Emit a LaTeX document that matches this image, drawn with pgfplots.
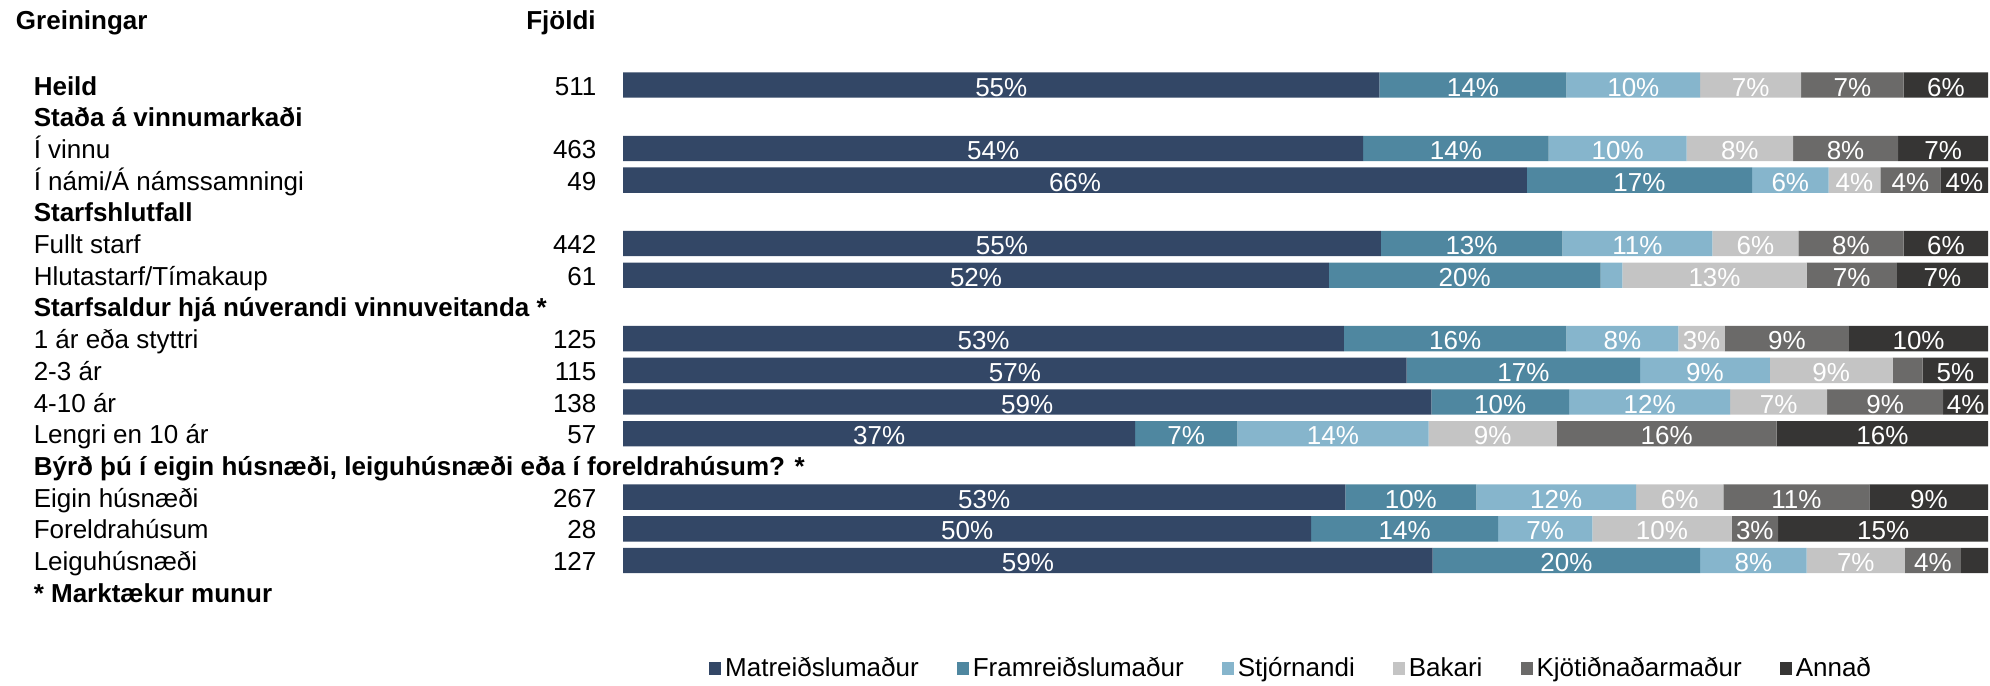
\documentclass[border=0pt]{standalone}
\usepackage{fontspec}
\setmainfont{Liberation Sans}
\usepackage{pgfplots}
\pgfplotsset{compat=1.18}
\definecolor{c1}{HTML}{334766}
\definecolor{c2}{HTML}{4F87A0}
\definecolor{c3}{HTML}{86B5CC}
\definecolor{c4}{HTML}{C4C4C4}
\definecolor{c5}{HTML}{6B6A69}
\definecolor{c6}{HTML}{363534}
\newcommand{\rl}[2]{\makebox[281.3pt][l]{\rlap{#1}\hfill #2}}
\begin{document}
\fontsize{13pt}{15.6pt}\selectfont
\begin{tikzpicture}
\useasboundingbox (0,0) rectangle (995pt,342.5pt);
\node[anchor=base west, font=\bfseries, inner sep=0pt] at (7.8pt,327.5pt) {Greiningar};
\node[anchor=base east, font=\bfseries, inner sep=0pt] at (298pt,327.5pt) {Fjöldi};
\begin{axis}[
  at={(311.6pt,307.9pt)}, anchor=north west,
  scale only axis, width=682.5pt, height=269.45pt,
  xbar stacked, bar width=0.8,
  xmin=0, xmax=100, ymin=-0.5, ymax=16.5,
  enlargelimits=false, clip=false,
  axis line style={draw=none}, major tick length=0pt,
  xtick=\empty,
  ytick={0,...,16},
  yticklabels={
    {\textbf{* Marktækur munur}},
    {\rl{Leiguhúsnæði}{127}},
    {\rl{Foreldrahúsum}{28}},
    {\rl{Eigin húsnæði}{267}},
    {\rl{\textbf{Býrð þú í eigin húsnæði, leiguhúsnæði eða í foreldrahúsum? *}}{}},
    {\rl{Lengri en 10 ár}{57}},
    {\rl{4-10 ár}{138}},
    {\rl{2-3 ár}{115}},
    {\rl{1 ár eða styttri}{125}},
    {\rl{\textbf{Starfsaldur hjá núverandi vinnuveitanda *}}{}},
    {\rl{Hlutastarf/Tímakaup}{61}},
    {\rl{Fullt starf}{442}},
    {\rl{\textbf{Starfshlutfall}}{}},
    {\rl{Í námi/Á námssamningi}{49}},
    {\rl{Í vinnu}{463}},
    {\rl{\textbf{Staða á vinnumarkaði}}{}},
    {\rl{\textbf{Heild}}{511}}
  },
  yticklabel style={anchor=base west, inner sep=0pt, xshift=-294.9pt, yshift=-5pt, font=\fontsize{13pt}{15.6pt}\selectfont},
  point meta=explicit symbolic,
  nodes near coords={\ifnum\pgfplotspointmeta>0 \pgfplotspointmeta\%\fi},
  every node near coord/.append style={anchor=base, text=white, inner sep=0pt, yshift=-5.5pt, font=\fontsize{13pt}{15.6pt}\selectfont},
  legend columns=6,
  legend style={draw=none, fill=none, at={(0.49,-0.113)}, anchor=center, inner sep=0pt,
    /tikz/every even column/.append style={column sep=17pt},
    font=\fontsize{13pt}{15.6pt}\selectfont},
  legend cell align=left,
]
\addplot[fill=c1, draw=none, legend image code/.code={\fill[c1] (0pt,-3.2pt) rectangle (6pt,3.3pt);}] coordinates {
 (55.4,16) [55] (54.2,14) [54] (66.2,13) [66] (55.5,11) [55] (51.7,10) [52] (52.8,8) [53]
 (57.4,7) [57] (59.2,6) [59] (37.5,5) [37] (52.9,3) [53] (50.4,2) [50] (59.3,1) [59]};
\addlegendentry{Matreiðslumaður}
\addplot[fill=c2, draw=none, legend image code/.code={\fill[c2] (0pt,-3.2pt) rectangle (6pt,3.3pt);}] coordinates {
 (13.7,16) [14] (13.6,14) [14] (16.5,13) [17] (13.3,11) [13] (19.9,10) [20] (16.3,8) [16]
 (17.1,7) [17] (10.1,6) [10] (7.5,5) [7] (9.6,3) [10] (13.7,2) [14] (19.6,1) [20]};
\addlegendentry{Framreiðslumaður}
\addplot[fill=c3, draw=none, legend image code/.code={\fill[c3] (0pt,-3.2pt) rectangle (6pt,3.3pt);}] coordinates {
 (9.8,16) [10] (10.1,14) [10] (5.6,13) [6] (11.0,11) [11] (1.6,10) [0] (8.2,8) [8]
 (9.5,7) [9] (11.8,6) [12] (14.0,5) [14] (11.7,3) [12] (6.9,2) [7] (7.8,1) [8]};
\addlegendentry{Stjórnandi}
\addplot[fill=c4, draw=none, legend image code/.code={\fill[c4] (0pt,-3.2pt) rectangle (6pt,3.3pt);}] coordinates {
 (7.4,16) [7] (7.8,14) [8] (3.8,13) [4] (6.3,11) [6] (13.5,10) [13] (3.4,8) [3]
 (9.0,7) [9] (7.1,6) [7] (9.4,5) [9] (6.4,3) [6] (10.2,2) [10] (7.2,1) [7]};
\addlegendentry{Bakari}
\addplot[fill=c5, draw=none, legend image code/.code={\fill[c5] (0pt,-3.2pt) rectangle (6pt,3.3pt);}] coordinates {
 (7.5,16) [7] (7.7,14) [8] (4.4,13) [4] (7.7,11) [8] (6.6,10) [7] (9.1,8) [9]
 (2.2,7) [0] (8.5,6) [9] (16.1,5) [16] (10.7,3) [11] (3.4,2) [3] (4.1,1) [4]};
\addlegendentry{Kjötiðnaðarmaður}
\addplot[fill=c6, draw=none, legend image code/.code={\fill[c6] (0pt,-3.2pt) rectangle (6pt,3.3pt);}] coordinates {
 (6.2,16) [6] (6.6,14) [7] (3.5,13) [4] (6.2,11) [6] (6.7,10) [7] (10.2,8) [10]
 (4.8,7) [5] (3.3,6) [4] (15.5,5) [16] (8.7,3) [9] (15.4,2) [15] (2.0,1) [0]};
\addlegendentry{Annað}
\end{axis}
\end{tikzpicture}
\end{document}
